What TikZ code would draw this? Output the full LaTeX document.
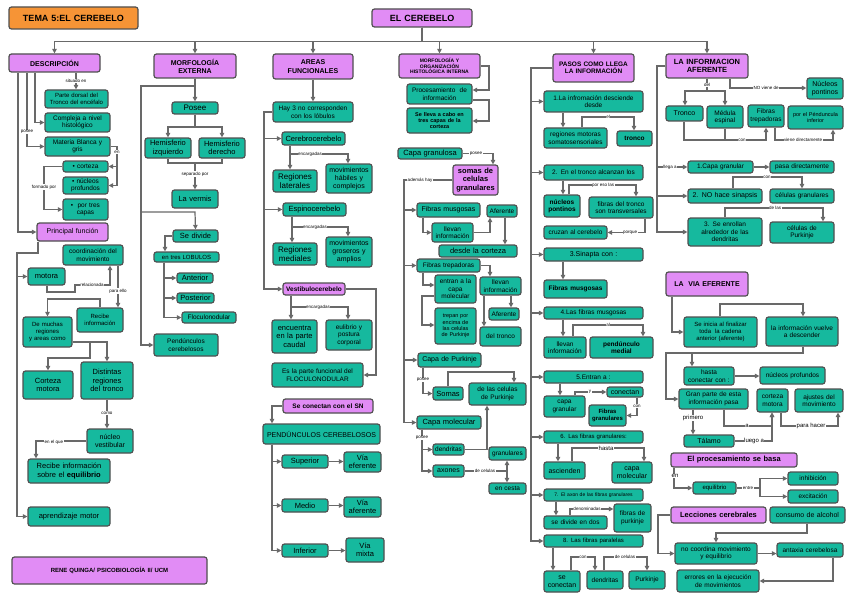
\documentclass[tikz,border=0pt]{standalone}
\usepackage{fontspec}
\setmainfont{Liberation Sans}
\usetikzlibrary{arrows.meta}
\definecolor{tealc}{RGB}{22,185,158}
\definecolor{purpc}{RGB}{225,140,245}
\definecolor{orc}{RGB}{246,148,54}
\definecolor{bordc}{RGB}{80,80,80}
\definecolor{linec}{RGB}{105,105,105}
\newcommand\bx[7]{%
 \pgfmathsetmacro\bxw{#5-#3}\pgfmathsetmacro\bxh{#6-#4}%
 \pgfmathsetmacro\bxx{(#3+#5)/2}\pgfmathsetmacro\bxy{(#4+#6)/2}%
 \pgfmathsetmacro\bxt{#5-#3-3}%
 \node[#2,minimum width=\bxw pt,minimum height=\bxh pt,text width=\bxt pt] (#1) at (\bxx,\bxy) {#7};}
\tikzset{
 base/.style={draw=bordc,line width=1.2pt,rounded corners=2.5pt,align=center,inner sep=0pt,text=black},
 tb/.style={base,fill=tealc},
 pb/.style={base,fill=purpc},
 ob/.style={base,fill=orc},
 f5/.style={font=\fontsize{5}{5.8}\selectfont},
 f55/.style={font=\fontsize{5.5}{6.3}\selectfont},
 f6/.style={font=\fontsize{6}{6.9}\selectfont},
 f65/.style={font=\fontsize{6.5}{7.4}\selectfont},
 f7/.style={font=\fontsize{7}{8}\selectfont},
 f75/.style={font=\fontsize{7.5}{8.5}\selectfont},
 f8/.style={font=\fontsize{8}{9}\selectfont},
 b5/.style={font=\fontsize{5}{5.8}\selectfont\bfseries},
 b55/.style={font=\fontsize{5.5}{6.3}\selectfont\bfseries},
 b6/.style={font=\fontsize{6}{6.9}\selectfont\bfseries},
 b65/.style={font=\fontsize{6.5}{7.4}\selectfont\bfseries},
 b7/.style={font=\fontsize{7}{8.2}\selectfont\bfseries},
 b75/.style={font=\fontsize{7.5}{8.5}\selectfont\bfseries},
 b9/.style={font=\fontsize{9}{10}\selectfont\bfseries},
 arr/.style={draw=linec,line width=1.2pt,-{Triangle[length=4.5pt,width=4.5pt]}},
 ln/.style={draw=linec,line width=1.2pt},
 lbl/.style={fill=white,inner sep=0.5pt,font=\fontsize{4.5}{5}\selectfont,text=black},
 lbb/.style={fill=white,inner sep=0.5pt,font=\fontsize{6}{6.5}\selectfont,text=black},
}
\begin{document}
\begin{tikzpicture}[x=1pt,y=-1pt]
\fill[white] (0,0) rectangle (848,599);
\useasboundingbox (0,0) rectangle (848,599);
% top
\bx{tema}{ob,b9}{9}{7}{138}{29}{TEMA 5:EL CEREBELO}
\bx{cer}{pb,b9}{372}{9}{472}{27}{EL CEREBELO}
% column 1
\bx{desc}{pb,b7}{9}{54}{100}{72}{DESCRIPCIÓN}
\bx{parte}{tb,f6}{45}{90}{108}{108}{Parte dorsal del\\Tronco del encéfalo}
\bx{compl}{tb,f65}{45}{113}{110}{132}{Compleja a nivel\\histológico}
\bx{mat}{tb,f65}{45}{137}{110}{156}{Materia Blanca y\\gris}
\bx{cort}{tb,f65}{63}{161}{108}{172}{• corteza}
\bx{nucp}{tb,f65}{63}{177}{108}{194}{• núcleos\\ profundos}
\bx{capas}{tb,f65}{63}{199}{108}{220}{• \ por tres\\capas}
\bx{pfun}{pb,f7}{37}{223}{108}{241}{Principal función}
\bx{coord}{tb,f65}{63}{245}{123}{265}{coordinación del\\movimiento}
\bx{motora}{tb,f75}{28}{268}{65}{285}{motora}
\bx{recib}{tb,f6}{77}{308}{123}{332}{Recibe\\información}
\bx{muchas}{tb,f6}{23}{317}{72}{347}{De muchas\\regiones\\y areas como}
\bx{cmot}{tb,f75}{23}{371}{73}{399}{Corteza\\motora}
\bx{dist}{tb,f75}{81}{362}{133}{399}{Distintas\\regiones\\del tronco}
\bx{nves}{tb,f7}{87}{429}{133}{453}{núcleo\\vestibular}
\bx{equil}{tb,f75}{28}{459}{110}{483}{Recibe información\\sobre el \textbf{equilibrio}}
\bx{aprend}{tb,f75}{28}{507}{110}{526}{aprendizaje motor}
\bx{rene}{pb,b6}{12}{557}{207}{584}{RENE QUINGA/ PSICOBIOLOGÍA II/ UCM}
% column 2
\bx{morf}{pb,b7}{154}{54}{236}{78}{MORFOLOGÍA\\EXTERNA}
\bx{posee}{tb,f8}{172}{102}{218}{114}{Posee}
\bx{hizq}{tb,f75}{145}{138}{191}{158}{Hemisferio\\izquierdo}
\bx{hder}{tb,f75}{199}{138}{245}{158}{Hemisferio\\derecho}
\bx{verm}{tb,f75}{172}{190}{218}{208}{La vermis}
\bx{sediv}{tb,f75}{173}{230}{218}{242}{Se divide}
\bx{lob}{tb,f6}{154}{252}{219}{262}{en tres LOBULOS}
\bx{ant}{tb,f75}{177}{273}{213}{283}{Anterior}
\bx{post}{tb,f75}{177}{293}{214}{303}{Posterior}
\bx{floc}{tb,f65}{182}{312}{236}{323}{Floculonodular}
\bx{pedc}{tb,f65}{154}{334}{218}{356}{Pendúnculos\\cerebelosos}
% column 3
\bx{areas}{pb,b7}{273}{54}{353}{79}{AREAS\\FUNCIONALES}
\bx{hay3}{tb,f65}{273}{102}{353}{122}{Hay 3 no corresponden\\con los lóbulos}
\bx{cc}{tb,f75}{282}{132}{345}{145}{Cerebrocerebelo}
\bx{rlat}{tb,f8}{273}{170}{317}{192}{Regiones\\laterales}
\bx{mhab}{tb,f7}{326}{164}{372}{193}{movimientos\\hábiles y\\complejos}
\bx{ec}{tb,f75}{283}{203}{346}{216}{Espinocerebelo}
\bx{rmed}{tb,f8}{273}{243}{317}{265}{Regiones\\mediales}
\bx{mgro}{tb,f7}{326}{237}{372}{267}{movimientos\\groseros y\\amplios}
\bx{vc}{pb,b65}{283}{283}{345}{295}{Vestibulocerebelo}
\bx{enc}{tb,f75}{272}{320}{317}{353}{encuentra\\en la parte\\caudal}
\bx{eul}{tb,f65}{326}{320}{372}{350}{eulibrio y\\postura\\corporal}
\bx{esfl}{tb,f65}{272}{363}{363}{387}{Es la parte funcional del\\FLOCULONODULAR}
\bx{secon}{pb,b65}{283}{399}{373}{413}{Se conectan con el SN}
\bx{pedc2}{tb,f7}{263}{424}{380}{444}{PENDÚNCULOS CEREBELOSOS}
\bx{sup}{tb,f75}{282}{455}{328}{468}{Superior}
\bx{vef}{tb,f75}{344}{452}{381}{472}{Vía\\eferente}
\bx{med}{tb,f75}{282}{499}{328}{512}{Medio}
\bx{vaf}{tb,f75}{344}{497}{381}{517}{Vía\\aferente}
\bx{inf}{tb,f75}{282}{544}{328}{557}{Inferior}
\bx{vmix}{tb,f75}{346}{538}{384}{562}{Vía\\mixta}
% column 4
\bx{morfi}{pb,b5}{399}{54}{480}{78}{MORFOLOGÍA Y\\ORGANIZACIÓN\\HISTOLÓGICA INTERNA}
\bx{proc}{tb,f65}{407}{84}{472}{104}{Procesamiento\ \ de\\información}
\bx{llev}{tb,b55}{407}{108}{472}{133}{Se lleva a cabo en\\tres capas de la\\corteza}
\bx{cgran}{tb,f75}{398}{148}{462}{159}{Capa granulosa}
\bx{somg}{pb,b75}{453}{165}{498}{195}{somas de\\celulas\\granulares}
\bx{fmus}{tb,f7}{417}{203}{480}{217}{Fibras musgosas}
\bx{afe1}{tb,f65}{487}{205}{517}{217}{Aferente}
\bx{lli1}{tb,f65}{432}{223}{473}{242}{llevan\\información}
\bx{desde}{tb,f75}{439}{245}{517}{257}{desde la corteza}
\bx{ftre}{tb,f65}{417}{259}{480}{272}{Fibras trepadoras}
\bx{entr}{tb,f65}{435}{275}{476}{303}{entran a la\\capa\\molecular}
\bx{lli2}{tb,f65}{480}{277}{521}{295}{llevan\\información}
\bx{trep}{tb,f55}{435}{308}{476}{344}{trepan por\\encima de\\las celulas\\de Purkinje}
\bx{afe2}{tb,f65}{489}{308}{519}{320}{Aferente}
\bx{delt}{tb,f65}{480}{327}{521}{346}{del tronco}
\bx{cpur}{tb,f7}{418}{353}{481}{367}{Capa de Purkinje}
\bx{somas}{tb,f75}{433}{387}{463}{400}{Somas}
\bx{dlcp}{tb,f65}{469}{383}{526}{405}{de las celulas\\de Purkinje}
\bx{cmol}{tb,f75}{417}{416}{481}{429}{Capa molecular}
\bx{dend}{tb,f65}{433}{444}{464}{455}{dendritas}
\bx{gran}{tb,f65}{489}{447}{526}{460}{granulares}
\bx{axon}{tb,f7}{433}{465}{464}{477}{axones}
\bx{cest}{tb,f65}{489}{483}{526}{494}{en cesta}
% column 5
\bx{pasos}{pb,b65}{553}{54}{634}{82}{PASOS COMO LLEGA\\LA INFORMACIÓN}
\bx{s1}{tb,f65}{544}{91}{643}{112}{1.La infromación desciende\\desde}
\bx{regm}{tb,f65}{544}{128}{607}{148}{regiones motoras\\somatosensoriales}
\bx{tron}{tb,b65}{617}{131}{652}{146}{tronco}
\bx{s2}{tb,f65}{544}{165}{643}{180}{2. En el tronco alcanzan los}
\bx{npon}{tb,b65}{544}{195}{580}{217}{núcleos\\pontinos}
\bx{ftra}{tb,f65}{589}{197}{653}{218}{fibras del tronco\\son transversales}
\bx{cruz}{tb,f65}{544}{226}{607}{239}{cruzan al cerebelo}
\bx{s3}{tb,f7}{544}{248}{643}{261}{3.Sinapta con :}
\bx{fmus2}{tb,b65}{544}{280}{607}{298}{Fibras musgosas}
\bx{s4}{tb,f65}{544}{307}{643}{319}{4.Las fibras musgosas}
\bx{lli3}{tb,f65}{544}{337}{586}{358}{llevan\\información}
\bx{pmed}{tb,b65}{590}{337}{653}{358}{pendúnculo\\medial}
\bx{s5}{tb,f65}{544}{371}{643}{383}{5.Entran a :}
\bx{cgr2}{tb,f65}{544}{396}{585}{417}{capa\\granular}
\bx{conec}{tb,f7}{607}{387}{643}{397}{conectan}
\bx{fgr}{tb,b6}{589}{405}{626}{426}{Fibras\\granulares}
\bx{s6}{tb,f6}{544}{431}{643}{443}{6. Las fibras granulares:}
\bx{asc}{tb,f7}{544}{462}{585}{479}{ascienden}
\bx{cmol2}{tb,f7}{612}{462}{652}{483}{capa\\molecular}
\bx{s7}{tb,f5}{544}{489}{643}{501}{7. El axon de las fibras granulares}
\bx{sdiv}{tb,f65}{544}{516}{607}{529}{se divide en dos}
\bx{fpur}{tb,f65}{614}{504}{651}{532}{fibras de\\purkinje}
\bx{s8}{tb,f6}{544}{535}{643}{547}{8. Las fibras paralelas}
\bx{scon}{tb,f7}{544}{571}{580}{592}{se\\conectan}
\bx{dend2}{tb,f65}{587}{571}{623}{589}{dendritas}
\bx{purk}{tb,f65}{629}{571}{665}{589}{Purkinje}
% column 6
\bx{infaf}{pb,b75}{666}{54}{748}{78}{LA INFORMACION\\AFERENTE}
\bx{npon2}{tb,f7}{807}{78}{843}{99}{Núcleos\\pontinos}
\bx{tron2}{tb,f7}{666}{106}{703}{121}{Tronco}
\bx{medu}{tb,f65}{707}{106}{743}{128}{Médula\\espinal}
\bx{ftr2}{tb,f65}{748}{105}{784}{127}{Fibras\\trepadoras}
\bx{pinf}{tb,f55}{788}{106}{843}{129}{por el Pénduncula\\inferior}
\bx{c1}{tb,f65}{688}{161}{753}{173}{1.Capa granular}
\bx{pdir}{tb,f65}{770}{161}{834}{173}{pasa directamente}
\bx{c2}{tb,f7}{688}{189}{762}{203}{2. NO hace sinapsis}
\bx{cgr3}{tb,f65}{770}{189}{834}{203}{células granulares}
\bx{c3}{tb,f65}{688}{218}{762}{246}{3. Se enrollan\\alrededor de las\\dendritas}
\bx{cpk}{tb,f65}{770}{222}{834}{243}{células de\\Purkinje}
\bx{via}{pb,b7}{666}{272}{748}{296}{LA\ \ VIA EFERENTE}
\bx{inic}{tb,f6}{684}{317}{757}{347}{Se inicia al finalizar\\toda\ \ la cadena\\anterior (aferente)}
\bx{vuel}{tb,f65}{766}{317}{838}{346}{la información vuelve\\a descender}
\bx{hasta}{tb,f65}{684}{367}{734}{385}{hasta\\conectar con :}
\bx{nprof}{tb,f65}{760}{367}{825}{384}{núcleos profundos}
\bx{gran2}{tb,f65}{679}{389}{748}{409}{Gran parte de esta\\información pasa}
\bx{cmo2}{tb,f65}{757}{389}{788}{412}{corteza\\motora}
\bx{ajus}{tb,f65}{795}{389}{843}{412}{ajustes del\\movimiento}
\bx{tal}{tb,f7}{684}{435}{734}{447}{Tálamo}
\bx{proc2}{pb,b75}{671}{453}{797}{467}{El procesamiento se basa}
\bx{equ}{tb,f6}{693}{482}{736}{494}{equilibrio}
\bx{inh}{tb,f65}{788}{472}{838}{485}{inhibición}
\bx{exc}{tb,f65}{788}{490}{838}{503}{excitación}
\bx{lecc}{pb,b75}{671}{507}{766}{523}{Lecciones cerebrales}
\bx{alc}{tb,f7}{770}{507}{845}{523}{consumo de alcohol}
\bx{noco}{tb,f65}{675}{543}{757}{564}{no coordina movimiento\\y equilibrio}
\bx{atax}{tb,f65}{777}{543}{843}{557}{antaxia cerebelosa}
\bx{err}{tb,f65}{677}{570}{759}{592}{errores en la ejecución\\de movimientos}
% ---------- connectors: top bus
\draw[arr] (cer.south) -- ++(0,14) -| (desc.north);
\draw[arr] (cer.south) -- ++(0,14) -| (morf.north);
\draw[arr] (cer.south) -- ++(0,14) -| (areas.north);
\draw[arr] (cer.south) -- ++(0,14) -| (morfi.north);
\draw[arr] (cer.south) -- ++(0,14) -| (pasos.north);
\draw[arr] (cer.south) -- ++(0,14) -| (infaf.north);
% column 1
\draw[arr] (desc.south -| 76,0) -- (parte.north -| 76,0);
\draw[arr] (desc.south -| 35,0) |- (compl.west);
\draw[arr] (desc.south -| 27,0) |- (mat.west);
\draw[arr] (desc.south -| 18,0) |- (pfun.west);
\draw[arr] (mat.east) -| (117,166.5) -- (cort.east);
\draw[arr] (mat.east) -| (117,185.5) -- (nucp.east);
\draw[arr] (cort.west) -| (44,209.5) -- (capas.west);
\draw[arr] (pfun.south -| 38,0) -- (38,253) -- (17,253) |- (motora.west);
\draw[arr] (pfun.south -| 38,0) -- (38,253) -- (17,253) |- (aprend.west);
\draw[arr] (motora.south -| 47,0) -- (47,292) -- (75,292) -- (75,285) -- (110,285) -- (coord.south -| 110,0);
\draw[arr] (coord.south -| 118,0) -- (recib.north -| 118,0);
\draw[arr] (recib.north -| 100,0) -- (100,299) -| (muchas.north);
\draw[arr] (muchas.east |- 0,342) -- (90,342) -- (90,358) -| (cmot.north);
\draw[arr] (muchas.east |- 0,342) -| (dist.north);
\draw[arr] (dist.south) -- (dist.south |- nves.north);
\draw[arr] (nves.west) -| (equil.north -| 36,0);
% column 2
\draw[arr] (morf.south) -- (posee.north);
\draw[arr] (morf.south) -- (195,86) -- (141,86) -- (141,212) -- (195,212) -- (sediv.north);
\draw[arr] (morf.south) -- (195,86) -- (141,86) |- (pedc.west);
\draw[arr] (posee.south) -- (195,127) -| (hizq.north);
\draw[arr] (posee.south) -- (195,127) -| (hder.north);
\draw[ln] (hizq.south) -- (168,163) -- (222,163) -- (hder.south);
\draw[arr] (195,163) -- (verm.north);
\draw[arr] (sediv.west) -| (lob.north -| 165,0);
\draw[arr] (lob.south -| 164,0) |- (ant.west);
\draw[arr] (lob.south -| 164,0) |- (post.west);
\draw[arr] (lob.south -| 164,0) |- (floc.west);
% column 3
\draw[arr] (areas.south) -- (hay3.north);
\draw[arr] (hay3.west) -| (264,138.5) -- (cc.west);
\draw[arr] (hay3.west) -| (264,209.5) -- (ec.west);
\draw[arr] (hay3.west) -| (264,289) -- (vc.west);
\draw[arr] (cc.south -| 290,0) -- (rlat.north -| 290,0);
\draw[arr] (cc.south -| 290,0) -- (290,154) -| (mhab.north -| 348,0);
\draw[arr] (ec.south -| 292,0) -- (rmed.north -| 292,0);
\draw[arr] (ec.south -| 292,0) -- (292,227) -| (mgro.north -| 348,0);
\draw[arr] (vc.south -| 291,0) -- (enc.north -| 291,0);
\draw[arr] (vc.south -| 291,0) -- (291,307) -| (eul.north -| 348,0);
\draw[arr] (vc.east) -- (376,289) |- (esfl.east);
\draw[arr] (secon.west) -| (pedc2.north -| 272,0);
\draw[arr] (pedc2.south -| 272,0) |- (sup.west);
\draw[arr] (pedc2.south -| 272,0) |- (med.west);
\draw[arr] (pedc2.south -| 272,0) |- (inf.west);
\draw[arr] (sup.east) -- (vef.west |- sup.east);
\draw[arr] (med.east) -- (vaf.west |- med.east);
\draw[arr] (inf.east) -- (vmix.west |- inf.east);
% column 4
\draw[arr] (morfi.east) -- (489,66) |- (proc.east |- 0,90);
\draw[arr] (proc.east |- 0,100) -- (489,100) |- (llev.east |- 0,121);
\draw[arr] (cgran.east) -- (493,153.5) -- (somg.north -| 493,0);
\draw[arr] (somg.west) -- (404,180) |- (fmus.west);
\draw[arr] (somg.west) -- (404,180) |- (ftre.west);
\draw[arr] (somg.west) -- (404,180) |- (cpur.west);
\draw[arr] (somg.west) -- (404,180) |- (cmol.west);
\draw[arr] (fmus.south -| 423,0) |- (lli1.west);
\draw[arr] (lli1.east) -| (afe1.south -| 490,0);
\draw[arr] (afe1.south -| 505,0) -- (desde.north -| 505,0);
\draw[arr] (ftre.east) -| (lli2.north -| 490,0);
\draw[arr] (ftre.south -| 423,0) |- (entr.west |- 0,285);
\draw[arr] (entr.west |- 0,296) -- (422,296) |- (trep.west |- 0,325);
\draw[arr] (lli2.south -| 511,0) -- (afe2.north -| 511,0);
\draw[arr] (lli2.south -| 484,0) -- (delt.north -| 484,0);
\draw[arr] (cpur.south -| 423,0) |- (somas.west);
\draw[arr] (somas.north -| 448,0) -- (448,372) -| (dlcp.north -| 514,0);
\draw[arr] (cmol.south -| 422,0) |- (dend.west);
\draw[arr] (cmol.south -| 422,0) |- (axon.west);
\draw[arr] (dend.east) -| (dlcp.south -| 487,0);
\draw[arr] (axon.east) -| (gran.south -| 507,0);
\draw[arr] (axon.east) -| (cest.north -| 507,0);
% column 5
\foreach \s in {s1,s2,s3,s4,s5,s6,s7,s8}{\draw[arr] (pasos.west) -- (531,68) |- (\s.west);}
\draw[arr] (s1.south -| 563,0) -- (regm.north -| 563,0);
\draw[arr] (regm.north -| 582,0) -- (582,117) -| (tron.north -| 634,0);
\draw[arr] (s2.south -| 563,0) -- (npon.north -| 563,0);
\draw[arr] (npon.north -| 569,0) -- (569,185) -| (ftra.north -| 636,0);
\draw[arr] (ftra.south -| 645,0) |- (cruz.east);
\draw[arr] (s3.south -| 563,0) -- (fmus2.north -| 563,0);
\draw[arr] (s4.south -| 563,0) -- (lli3.north -| 563,0);
\draw[arr] (lli3.north -| 573,0) -- (573,325) -| (pmed.north -| 643,0);
\draw[arr] (s5.south -| 560,0) -- (cgr2.north -| 560,0);
\draw[arr] (cgr2.north -| 575,0) -- (575,392) -- (conec.west |- 0,392);
\draw[arr] (conec.south -| 637,0) |- (fgr.east);
\draw[arr] (s6.south -| 558,0) -- (asc.north -| 558,0);
\draw[arr] (asc.north -| 572,0) -- (572,448) -| (cmol2.north -| 644,0);
\draw[arr] (s7.south -| 556,0) -- (sdiv.north -| 556,0);
\draw[arr] (sdiv.north -| 570,0) -- (570,509) -- (fpur.west |- 0,509);
\draw[arr] (s8.south -| 553,0) -- (scon.north -| 553,0);
\draw[arr] (scon.north -| 571,0) -- (571,557) -| (dend2.north -| 595,0);
\draw[arr] (dend2.north -| 604,0) -- (604,557) -| (purk.north -| 647,0);
% column 6
\draw[arr] (infaf.west) -- (657,66) |- (c1.west);
\draw[arr] (infaf.west) -- (657,66) |- (c2.west);
\draw[arr] (infaf.west) -- (657,66) |- (c3.west);
\draw[arr] (c1.east) -- (pdir.west);
\draw[arr] (c2.north -| 733,0) -- (733,177) -| (cgr3.north -| 802,0);
\draw[arr] (c3.north -| 725,0) -- (725,208) -| (cpk.north -| 823,0);
\draw[arr] (infaf.south) -- (707,91) -| (tron2.north -| 685,0);
\draw[arr] (infaf.south) -- (707,91) -| (medu.north -| 725,0);
\draw[arr] (infaf.south -| 730,0) -- (730,88) -- (npon2.west |- 0,88);
\draw[arr] (tron2.south -| 684,0) -- (684,140) -| (ftr2.south -| 766,0);
\draw[ln] (medu.south) -- (725,140);
\draw[arr] (ftr2.south -| 775,0) -- (775,140) -| (pinf.south -| 833,0);
\draw[arr] (via.south -| 672,0) |- (inic.west);
\draw[arr] (inic.north -| 720,0) -- (720,304) -| (vuel.north -| 803,0);
\draw[arr] (vuel.south -| 803,0) -- (803,353) -- (666,353) |- (gran2.west);
\draw[arr] (vuel.south -| 803,0) -- (803,353) -| (hasta.north -| 692,0);
\draw[arr] (hasta.east) -- (nprof.west |- hasta.east);
\draw[arr] (gran2.south -| 693,0) -- (tal.north -| 693,0);
\draw[arr] (gran2.south -| 724,0) -- (724,426) -| (cmo2.south -| 772,0);
\draw[arr] (tal.east) -| (cmo2.south -| 772,0);
\draw[arr] (cmo2.south -| 781,0) -- (781,426) -| (ajus.south -| 838,0);
\draw[arr] (proc2.south -| 674,0) |- (equ.west);
\draw[arr] (equ.east) -- (760,488) |- (inh.west);
\draw[arr] (equ.east) -- (760,488) |- (exc.west);
\draw[arr] (lecc.west) -- (658,515) |- (noco.west);
\draw[arr] (alc.south -| 807,0) -- (807,533) -| (noco.north -| 716,0);
\draw[arr] (noco.east) -- (atax.west |- noco.east);
\draw[arr] (atax.south -| 833,0) |- (err.east);
% ---------- labels
\node[lbl] (l1) at (76,81) {situado en};
\node[lbl] (l2) at (27,132) {posee};
\node[lbl] (l3) at (117,152) {en};
\node[lbl] (l4) at (44,187) {formado por};
\node[lbl] (l5) at (92,285) {relacionada};
\node[lbl] (l6) at (118,291) {para ello};
\node[lbl] (l7) at (107,413) {como};
\node[lbl] (l8) at (54,442) {en el que};
\node[lbl] (l9) at (195,174) {separado por};
\node[lbl] (l10) at (310,154) {encargadas};
\node[lbl] (l11) at (315,227) {encargadas};
\node[lbl] (l12) at (318,307) {encargadas};
\node[lbl] (l13) at (476,153.5) {posee};
\node[lbl] (l14) at (420,180) {además hay};
\node[lbl] (l15) at (423,380) {posee};
\node[lbl] (l16) at (422,438) {posee};
\node[lbl] (l17) at (485,471) {de celulas};
\node[lbl] (l18) at (608,117) {el};
\node[lbl] (l19) at (603,185) {por eso las};
\node[lbl] (l20) at (630,232.5) {porque};
\node[lbl] (l21) at (608,325) {al};
\node[lbl] (l22) at (590,392) {y};
\node[lbl] (l23) at (637,406) {con};
\node[lbb] (l24) at (606,448) {hasta};
\node[lbl] (l25) at (587,509) {denominadas};
\node[lbl] (l26) at (583,557) {con};
\node[lbl] (l27) at (625,557) {de celulas};
\node[lbl] (l28) at (707,85) {del};
\node[lbl] (l29) at (766,88) {NO viene de};
\node[lbl] (l30) at (742,140) {con};
\node[lbl] (l31) at (803,140) {viene directamente};
\node[lbl] (l32) at (670,167) {llega a};
\node[lbl] (l33) at (767,177) {con};
\node[lbl] (l34) at (775,208) {de las};
\node[lbb] (l35) at (693,418) {primero};
\node[lbb] (l36) at (747,426) {a};
\node[lbb] (l37) at (754,441) {luego a};
\node[lbb] (l38) at (811,426) {para hacer};
\node[lbb] (l39) at (675,476) {en};
\node[lbl] (l40) at (748,488) {entre};
\end{tikzpicture}
\end{document}
